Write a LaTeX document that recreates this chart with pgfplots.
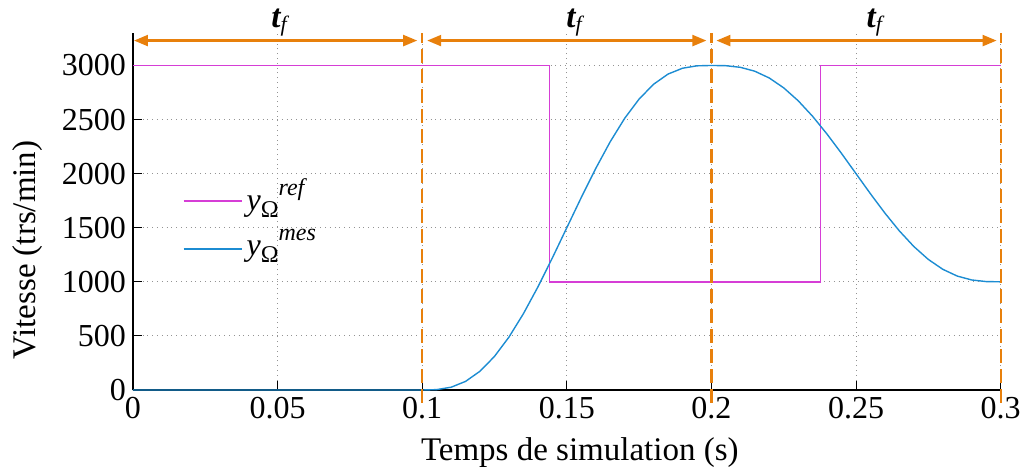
\documentclass[border=0pt]{standalone}
\usepackage{fontspec}
\setmainfont{Liberation Serif}
\usepackage{pgfplots}
\pgfplotsset{compat=1.18}
\usetikzlibrary{arrows.meta}
\definecolor{cref}{RGB}{214,62,214}
\definecolor{cmes}{RGB}{28,140,210}
\definecolor{corg}{RGB}{232,128,12}
\newcommand{\yO}[1]{\textit{y}\raisebox{-0.45ex}{\fontsize{12}{12}\selectfont Ω}\raisebox{1.0ex}{\fontsize{12}{12}\selectfont\textit{#1}}}
\newcommand{\tf}{{\fontsize{16.5}{16}\selectfont\bfseries\itshape t}\raisebox{-0.4ex}{\fontsize{11}{11}\selectfont\itshape f}}
\begin{document}
\begin{tikzpicture}
\begin{axis}[
  scale only axis, width=433.8pt, height=178.5pt,
  xmin=0, xmax=0.3, ymin=0, ymax=3300,
  axis x line=bottom, axis y line=left,
  axis line style={-, line width=0.6pt},
  xtick={0,0.05,0.1,0.15,0.2,0.25,0.3},
  xticklabels={0,0.05,0.1,0.15,0.2,0.25,0.3},
  ytick={0,500,1000,1500,2000,2500,3000},
  yticklabels={0,500,1000,1500,2000,2500,3000},
  tick align=inside, major tick length=4.5pt,
  tick style={black, line width=0.5pt},
  grid=major, major grid style={dotted, gray!85, line width=0.5pt},
  ticklabel style={font=\fontsize{16}{16}\selectfont},
  xlabel={Temps de simulation (s)}, ylabel={Vitesse (trs/min)},
  label style={font=\fontsize{16.5}{17}\selectfont},
  xlabel style={at={(axis description cs:0.515,-0.174)}, anchor=center},
  ylabel style={at={(axis description cs:-0.122,0.392)}, anchor=center},
  clip=false,
  legend style={at={(axis description cs:0.05,0.615)}, anchor=north west, draw=none, fill=none,
    font=\fontsize{16}{16}\selectfont, row sep=4pt},
  legend cell align=left,
  legend image code/.code={\draw[#1, line width=0.9pt] (0pt,-2.5pt) -- (29pt,-2.5pt);},
]
\addplot[cref, line width=0.7pt] coordinates {
  (0,3000) (0.144,3000) (0.144,1000) (0.2378,1000) (0.2378,3000) (0.3,3000)
};
\addlegendentry{\yO{ref}}
\addplot[cmes, line width=0.7pt] coordinates {
  (0,0) (0.1,0) (0.105,3.5) (0.11,25.7) (0.115,79.8) (0.12,173.8) (0.125,310.6)
  (0.13,489.2) (0.135,705.5) (0.14,952.3) (0.145,1220.6) (0.15,1500)
  (0.155,1779.4) (0.16,2047.7) (0.165,2294.5) (0.17,2510.8) (0.175,2689.4)
  (0.18,2826.2) (0.185,2920.2) (0.19,2974.3) (0.195,2996.5) (0.2,3000)
  (0.205,2997.7) (0.21,2982.9) (0.215,2946.8) (0.22,2884.2) (0.225,2793.0)
  (0.23,2673.8) (0.235,2529.7) (0.24,2365.1) (0.245,2186.3) (0.25,2000)
  (0.255,1813.7) (0.26,1634.9) (0.265,1470.3) (0.27,1326.2) (0.275,1207.0)
  (0.28,1115.8) (0.285,1053.2) (0.29,1017.1) (0.295,1002.3) (0.3,1000)
};
\addlegendentry{\yO{mes}}
% orange dashed markers
\addplot[corg, line width=1.1pt, dash pattern=on 7pt off 3pt, forget plot] coordinates {(0.1,-120) (0.1,3300)};
\addplot[corg, line width=1.1pt, dash pattern=on 7pt off 3pt, forget plot] coordinates {(0.2,-120) (0.2,3300)};
\addplot[corg, line width=1.1pt, dash pattern=on 7pt off 3pt, forget plot] coordinates {(0.3,-120) (0.3,3300)};
% arrows
\addplot[corg, line width=1.1pt, {Triangle[length=7pt,width=5.5pt]}-{Triangle[length=7pt,width=5.5pt]}, shorten <=0.5pt, shorten >=2.5pt, forget plot] coordinates {(0,3230) (0.1,3230)};
\addplot[corg, line width=1.1pt, {Triangle[length=7pt,width=5.5pt]}-{Triangle[length=7pt,width=5.5pt]}, shorten <=2.5pt, shorten >=2.5pt, forget plot] coordinates {(0.1,3230) (0.2,3230)};
\addplot[corg, line width=1.1pt, {Triangle[length=7pt,width=5.5pt]}-{Triangle[length=7pt,width=5.5pt]}, shorten <=2.5pt, shorten >=2pt, forget plot] coordinates {(0.2,3230) (0.3,3230)};
\node[anchor=base] at (axis cs:0.0505,3349) {\tf};
\node[anchor=base] at (axis cs:0.1525,3349) {\tf};
\node[anchor=base] at (axis cs:0.2563,3349) {\tf};
\end{axis}
\path (current axis.south west) ++(-66.5pt,-38pt) coordinate (bbA);
\path (current axis.north east) ++(10.2pt,16.5pt) coordinate (bbB);
\pgfresetboundingbox
\path[use as bounding box] (bbA) rectangle (bbB);
\end{tikzpicture}
\end{document}
